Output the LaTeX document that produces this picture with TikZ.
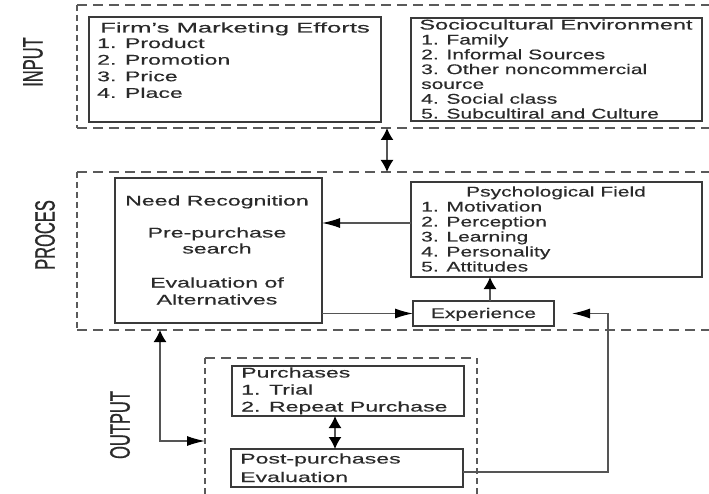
\documentclass[tikz,border=0pt]{standalone}
\usepackage{fontspec}
\setmainfont{Liberation Sans}[FakeStretch=1.5,FakeBold=0.3]
\newfontfamily\wide{Liberation Sans}[FakeStretch=1.65,FakeBold=0.3]
\newfontfamily\labfont{Liberation Sans}[FakeBold=0.9]
\usetikzlibrary{arrows.meta}
\definecolor{dashc}{HTML}{5A5A5A}
\definecolor{boxc}{HTML}{3A3A3A}
\definecolor{textc}{HTML}{2A2A2A}
\definecolor{linec}{HTML}{555555}
\begin{document}
\begin{tikzpicture}[x=1pt,y=-1pt,
  region/.style={inner sep=0pt,outer sep=0pt,anchor=north west},
  hdash/.style={draw=dashc,line width=1.4pt,dash pattern=on 10pt off 6pt},
  vdash/.style={draw=dashc,line width=1.6pt,dash pattern=on 6pt off 4pt},
  box/.style={draw=boxc,line width=1.3pt,inner sep=0pt,outer sep=0pt,anchor=north west},
  txt/.style={font=\fontsize{14}{15}\selectfont,text=textc,inner sep=0pt,anchor=base west},
  ctxt/.style={font=\fontsize{14}{15}\selectfont,text=textc,inner sep=0pt,anchor=base},
  wtxt/.style={font=\wide\fontsize{14}{15}\selectfont,text=textc,inner sep=0pt,anchor=base west},
  wctxt/.style={font=\wide\fontsize{14}{15}\selectfont,text=textc,inner sep=0pt,anchor=base},
  lab/.style={font=\labfont\fontsize{16.5}{18}\selectfont,text=textc,inner sep=0pt,rotate=90},
  conn/.style={draw=linec,line width=1.3pt},
  htip/.style={-{Latex[length=18pt,width=10pt,color=black]}},
  vtip/.style={-{Latex[length=12pt,width=13pt,color=black]}},
  vdtip/.style={{Latex[length=12pt,width=13pt,color=black]}-{Latex[length=12pt,width=13pt,color=black]}},
  vhtip/.style={{Latex[length=12pt,width=13pt,color=black]}-{Latex[length=18pt,width=10pt,color=black]}}
]
\useasboundingbox (0,0) rectangle (709,494);
\clip (0,0) rectangle (709,494);
\fill[white] (0,0) rectangle (709,494);

% regions
\node[region,minimum width=643pt,minimum height=123pt] (input) at (77,5) {};
\node[region,minimum width=643pt,minimum height=158pt] (proces) at (77,172) {};
\node[region,minimum width=272pt,minimum height=160pt] (output) at (205,358) {};
\foreach \r in {input,proces,output}{
  \draw[hdash] (\r.north west) -- (\r.north east);
  \draw[hdash] (\r.south west) -- (\r.south east);
  \draw[vdash] (\r.north west) -- (\r.south west);
  \draw[vdash] (\r.north east) -- (\r.south east);
}

% labels
\node[lab] (linput) at (33,62) {\scalebox{1}[1.7]{INPUT}};
\node[lab] (lproces) at (45,235) {\scalebox{1}[1.7]{PROCES}};
\node[lab] (loutput) at (120,425) {\scalebox{1}[1.7]{OUTPUT}};

% boxes
\node[box,minimum width=292pt,minimum height=105pt] (firm) at (89,17) {};
\node[box,minimum width=291pt,minimum height=103pt] (socio) at (411,18) {};
\node[box,minimum width=207pt,minimum height=145pt] (need) at (115,178) {};
\node[box,minimum width=291pt,minimum height=95pt] (psych) at (411,182) {};
\node[box,minimum width=141pt,minimum height=25pt] (exp) at (413,301) {};
\node[box,minimum width=232pt,minimum height=50pt] (purch) at (232,366) {};
\node[box,minimum width=232pt,minimum height=38pt] (post) at (231,449) {};

% texts
\node[ctxt] (firmt) at (235,32.5) {\scalebox{1.22}[1]{Firm's Marketing Efforts}};
\foreach \t [count=\i] in {1. Product,2. Promotion,3. Price,4. Place}
  \node[wtxt] (firm\i) at (97,{48+16.6*(\i-1)}) {\t};

\node[ctxt] (sociot) at (556,29.5) {\scalebox{1.12}[1]{Sociocultural Environment}};
\foreach \t [count=\i] in {1. Family,2. Informal Sources,3. Other noncommercial,source,4. Social class,5. Subcultiral and Culture}
  \node[txt] (socio\i) at (421,{44.5+14.8*(\i-1)}) {\t};

\node[ctxt] (psycht) at (556,196.5) {Psychological Field};
\foreach \t [count=\i] in {1. Motivation,2. Perception,3. Learning,4. Personality,5. Attitudes}
  \node[txt] (psych\i) at (421,{211.5+15*(\i-1)}) {\t};

\node[wctxt] (need1) at (217,205.5) {Need Recognition};
\node[wctxt] (need2) at (217,237.5) {Pre-purchase};
\node[wctxt] (need3) at (217,253.5) {search};
\node[wctxt] (need4) at (217,287.5) {Evaluation of};
\node[wctxt] (need5) at (217,304.5) {Alternatives};

\node[ctxt] (expt) at (483.5,318) {Experience};

\node[wtxt] (purch1) at (241,377.5) {Purchases};
\node[wtxt] (purch2) at (241,394.5) {1. Trial};
\node[wtxt] (purch3) at (241,411.5) {2. Repeat Purchase};

\node[wtxt] (post1) at (240,463.5) {Post-purchases};
\node[wtxt] (post2) at (240,482) {Evaluation};

% connectors
\coordinate (ax) at (387,0);
\draw[conn,vdtip] (input.south -| ax) -- (proces.north -| ax);
\coordinate (ay) at (0,223);
\draw[conn,htip] (psych.west |- ay) -- (need.east |- ay);
\draw[conn,htip] (need.east |- exp.west) -- (exp.west);
\coordinate (ex) at (490,0);
\draw[conn,vtip] (exp.north -| ex) -- (psych.south -| ex);
\coordinate (fb) at (608,0);
\coordinate (fby) at (0,472);
\coordinate (fbend) at ([xshift=18pt]exp.east);
\draw[conn,htip] (post.east |- fby) -| (fb |- fbend) -- (fbend);
\coordinate (dx) at (160,0);
\coordinate (dy) at (0,441);
\draw[conn,vhtip] (proces.south -| dx) |- (output.west |- dy);
\coordinate (px) at (335,0);
\draw[conn,vdtip] (purch.south -| px) -- (post.north -| px);
\end{tikzpicture}
\end{document}
